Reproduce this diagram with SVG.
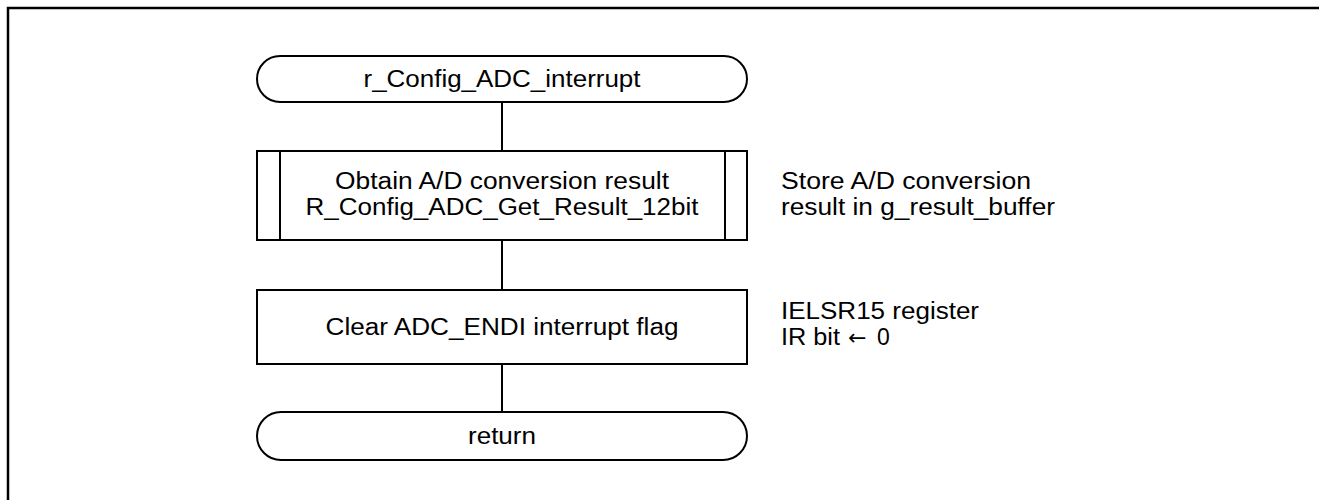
<svg xmlns="http://www.w3.org/2000/svg" width="1319" height="500" viewBox="0 0 1319 500">
<style>
.s{fill:#fff;stroke:#000;stroke-width:2}
.c{fill:none;stroke:#000;stroke-width:2}
.t{font-family:"Liberation Sans",Arial,sans-serif;font-size:23px;fill:#000}
.m{text-anchor:middle}
.a{font-family:"DejaVu Sans",sans-serif;font-size:22px}
</style>
<rect width="1319" height="500" fill="#fff"/>
<path d="M8,500 V8 H1319" fill="none" stroke="#000" stroke-width="2.5"/>
<g id="connectors">
<line class="c" x1="502" y1="102" x2="502" y2="151"/>
<line class="c" x1="502" y1="240" x2="502" y2="290"/>
<line class="c" x1="502" y1="364" x2="502" y2="412"/>
</g>
<g id="start">
<rect class="s" x="257" y="56" width="490" height="46" rx="23"/>
<text class="t m" x="502" y="87" textLength="277" lengthAdjust="spacingAndGlyphs">r_Config_ADC_interrupt</text>
</g>
<g id="obtain">
<rect class="s" x="257" y="151" width="490" height="89"/>
<line class="c" x1="280" y1="151" x2="280" y2="240"/>
<line class="c" x1="725" y1="151" x2="725" y2="240"/>
<text class="t m" x="502" y="189" textLength="334" lengthAdjust="spacingAndGlyphs">Obtain A/D conversion result</text>
<text class="t m" x="502" y="215" textLength="393" lengthAdjust="spacingAndGlyphs">R_Config_ADC_Get_Result_12bit</text>
</g>
<g id="note1">
<text class="t" x="781" y="189" textLength="250" lengthAdjust="spacingAndGlyphs">Store A/D conversion</text>
<text class="t" x="781" y="215" textLength="274" lengthAdjust="spacingAndGlyphs">result in g_result_buffer</text>
</g>
<g id="clear">
<rect class="s" x="257" y="290" width="490" height="74"/>
<text class="t m" x="502" y="335" textLength="353" lengthAdjust="spacingAndGlyphs">Clear ADC_ENDI interrupt flag</text>
</g>
<g id="note2">
<text class="t" x="781" y="319" textLength="198" lengthAdjust="spacingAndGlyphs">IELSR15 register</text>
<text class="t" y="345"><tspan x="781" textLength="59" lengthAdjust="spacingAndGlyphs">IR bit</tspan> <tspan class="a" x="848">←</tspan> <tspan x="877">0</tspan></text>
</g>
<g id="return">
<rect class="s" x="257" y="412" width="490" height="48" rx="24"/>
<text class="t m" x="502" y="444" textLength="68" lengthAdjust="spacingAndGlyphs">return</text>
</g>
</svg>
